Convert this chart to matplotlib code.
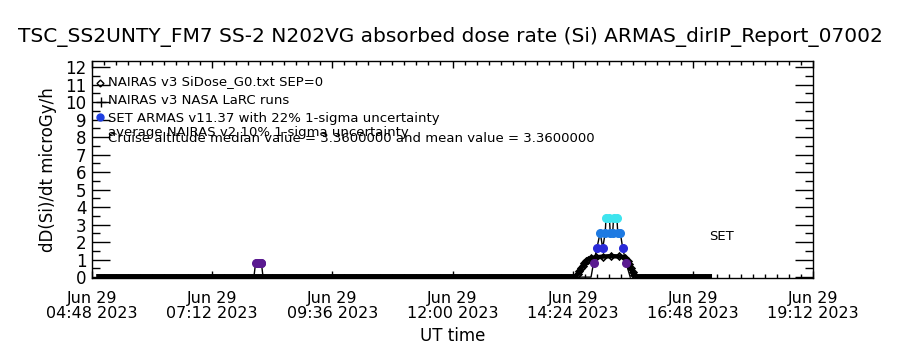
import numpy as np
import matplotlib
matplotlib.use("Agg")
import matplotlib.pyplot as plt
from matplotlib.ticker import FixedLocator, MultipleLocator, FuncFormatter

plt.rcParams['font.family'] = ['DejaVu Sans']

# ---------------- data ----------------
title = "TSC_SS2UNTY_FM7 SS-2 N202VG absorbed dose rate (Si) ARMAS_dirIP_Report_07002"

# NAIRAS v3 SiDose (diamonds), UT hh:mm and microGy/h
nairas_time = ["04:53", "06:00", "08:00", "10:00", "12:00", "14:00", "14:28",
               "14:30", "14:32", "14:34", "14:36", "14:38", "14:40", "14:42",
               "14:46", "14:52", "15:00", "15:10", "15:20", "15:27", "15:30",
               "15:32", "15:34", "15:36", "15:38", "15:40", "16:30", "17:11"]
nairas_val = [0.05, 0.05, 0.05, 0.05, 0.05, 0.05, 0.05,
              0.20, 0.35, 0.50, 0.65, 0.78, 0.90, 1.00,
              1.08, 1.13, 1.17, 1.20, 1.18, 1.12, 0.95,
              0.75, 0.50, 0.28, 0.10, 0.05, 0.05, 0.05]

# SET ARMAS v11.37 measurements
armas_time = ["08:02", "08:04", "08:06", "08:08", "08:10", "08:11", "08:13",
              "14:46", "14:49", "14:53", "14:57", "15:00", "15:03", "15:04",
              "15:08", "15:09", "15:12", "15:13", "15:17", "15:18", "15:21",
              "15:24", "15:28", "15:33"]
armas_val = [0.0, 0.8, 0.8, 0.8, 0.8, 0.8, 0.0,
             0.0, 0.8, 1.65, 2.55, 1.65, 2.55, 3.4,
             3.4, 2.55, 2.55, 3.4, 3.4, 2.55, 2.55,
             1.65, 0.8, 0.0]
armas_levels = [1.0, 2.0, 3.0, 99.0]
armas_palette = ["#5a1a90", "#2a2ad8", "#1e7ae2", "#3ee4ee"]

legend_labels = ["NAIRAS v3 SiDose_G0.txt SEP=0",
                 "NAIRAS v3 NASA LaRC runs",
                 "SET ARMAS v11.37 with 22% 1-sigma uncertainty",
                 "average NAIRAS v2 10% 1-sigma uncertainty",
                 "Cruise altitude median value = 3.3600000 and mean value = 3.3600000"]

x_major = [4.8, 7.2, 9.6, 12.0, 14.4, 16.8, 19.2]
y_ticks = list(range(0, 13))


def to_hours(hhmm):
    h, m = hhmm.split(":")
    return int(h) + int(m) / 60.0


W, H = 900, 350


def fx(x):
    return x / W


def fy(y):
    return 1 - y / H


nt = np.array([to_hours(t) for t in nairas_time])
nv = np.array(nairas_val)
at = np.array([to_hours(t) for t in armas_time])
av = np.array(armas_val)

fig = plt.figure(figsize=(9, 3.5), dpi=100)
ax = fig.add_axes([fx(92), fy(278), fx(813) - fx(92), fy(61) - fy(278)])

# NAIRAS: thick black trace of overlapping open diamonds
ax.plot(nt, nv, color="black", lw=3.2, solid_capstyle="butt", zorder=3)
bump = nv > 0.06
ax.plot(nt[bump], nv[bump], ls="none", marker="D", ms=3.5, mfc="none",
        mec="black", mew=1.2, zorder=4)

# ARMAS: thin connecting line + coloured dots
ax.plot(at, av, color="black", lw=1.0, zorder=2)
lev = np.searchsorted(armas_levels, av)
for k, c in enumerate(armas_palette):
    sel = (av > 0) & (lev == k)
    ax.plot(at[sel], av[sel], ls="none", marker="o", ms=5.5, color=c,
            mec=c, zorder=5)

ax.set_xlim(4.8, 19.2)
ax.set_ylim(-0.05, 12.35)
ax.xaxis.set_major_locator(FixedLocator(x_major))
ax.xaxis.set_minor_locator(MultipleLocator(0.24))
ax.yaxis.set_major_locator(FixedLocator(y_ticks))
ax.yaxis.set_minor_locator(MultipleLocator(0.5))


def fmt_time(v, pos):
    h = int(round(v * 60)) // 60
    m = int(round(v * 60)) % 60
    return "Jun 29\n%02d:%02d 2023" % (h, m)


ax.xaxis.set_major_formatter(FuncFormatter(fmt_time))
ax.tick_params(axis="x", which="major", direction="in", length=5, width=1,
               top=True, bottom=True, labelsize=11.5, pad=9)
ax.tick_params(axis="x", which="minor", direction="in", length=3, width=1,
               top=True, bottom=True)
ax.tick_params(axis="y", which="major", direction="in", length=13, width=1,
               left=True, right=True, labelsize=12, pad=4)
ax.tick_params(axis="y", which="minor", direction="in", length=6, width=1,
               left=True, right=True)
for lab in ax.get_xticklabels():
    lab.set_linespacing(1.05)
for s in ax.spines.values():
    s.set_linewidth(1)

ax.set_xlabel("UT time", fontsize=12, labelpad=4)
ax.set_ylabel("dD(Si)/dt microGy/h", fontsize=12, labelpad=6)
fig.text(0.5, fy(37), title, ha="center", va="center", fontsize=14.5)

# legend drawn IDL-style inside the plot
leg_y = [82, 100, 118, 132, 139]
for lbl, yy in zip(legend_labels, leg_y):
    fig.text(fx(108), fy(yy), lbl, ha="left", va="center", fontsize=9.5)
ax.plot([fx(100)], [fy(83)], transform=fig.transFigure, marker="D", ms=3.5,
        mfc="none", mec="black", mew=1.0, clip_on=False)
ax.plot([fx(101)], [fy(102)], transform=fig.transFigure, marker="+", ms=7,
        color="black", mew=1.0, clip_on=False)
ax.plot([fx(100)], [fy(117)], transform=fig.transFigure, marker="o", ms=5,
        color="#1f3fe0", clip_on=False)
fig.text(fx(722), fy(237), "SET", ha="center", va="center", fontsize=9.5)

fig.savefig("out.png", dpi=100)
